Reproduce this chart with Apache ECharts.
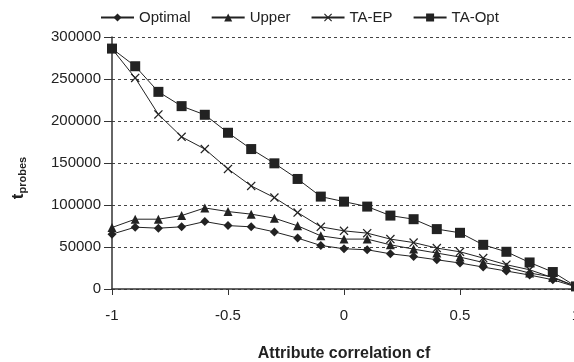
<!DOCTYPE html>
<html>
<head>
<meta charset="utf-8">
<script src="https://cdn.jsdelivr.net/npm/echarts@6/dist/echarts.min.js"></script>
<style>
  html, body { margin: 0; padding: 0; background: #fff; }
  #chart { width: 574px; height: 362px; }
</style>
</head>
<body>
<div id="chart"></div>
<script>
const xs = [-1, -0.9, -0.8, -0.7, -0.6, -0.5, -0.4, -0.3, -0.2, -0.1, 0, 0.1, 0.2, 0.3, 0.4, 0.5, 0.6, 0.7, 0.8, 0.9, 1];
const optimal = [65300, 73600, 72400, 74000, 80300, 75500, 74000, 68000, 60600, 51800, 47900, 46700, 41900, 38700, 34800, 30900, 26100, 21400, 16600, 11000, 2500];
const upper = [73200, 83100, 83100, 87400, 96500, 92200, 89100, 84300, 75200, 63300, 59400, 59400, 52600, 47500, 42800, 38000, 31600, 26100, 19000, 14300, 3000];
const taEp = [286000, 251300, 207800, 181200, 166600, 142900, 122700, 108800, 91000, 74000, 69200, 66500, 59400, 55300, 48700, 44300, 36800, 28900, 22900, 13400, 3000];
const taOpt = [286200, 265200, 234700, 217700, 207400, 186000, 166600, 149600, 131000, 110000, 104000, 98100, 87400, 83100, 71300, 66900, 52600, 44300, 31600, 20200, 3100];

const pairs = vals => xs.map((x, i) => [x, vals[i]]);

const crossPath = "path://M0,1 L1,0 L5,4 L9,0 L10,1 L6,5 L10,9 L9,10 L5,6 L1,10 L0,9 L4,5 Z";
const ink = "#222";
const font = "Liberation Sans, Arial, sans-serif";

const chart = echarts.init(document.getElementById("chart"));

const mkSeries = (name, vals, symbol, size) => ({
  name: name,
  type: "line",
  data: pairs(vals),
  symbol: symbol,
  symbolSize: size,
  showAllSymbol: true,
  lineStyle: { color: ink, width: 1 },
  itemStyle: { color: ink },
  animation: false
});

const option = {
  textStyle: { fontFamily: font },
  legend: {
    top: 5,
    left: 95,
    itemWidth: 33,
    itemHeight: 10,
    itemGap: 20,
    textStyle: { fontSize: 15, color: ink, fontFamily: font },
    data: ["Optimal", "Upper", "TA-EP", "TA-Opt"]
  },
  grid: {
    left: 112,
    right: -2,
    top: 37,
    bottom: 73,
    outerBoundsMode: "none",
    containLabel: false
  },
  xAxis: {
    type: "value",
    min: -1,
    max: 1,
    interval: 0.5,
    name: "Attribute correlation cf",
    nameLocation: "middle",
    nameGap: 57,
    nameTextStyle: { fontSize: 16, fontWeight: "bold", color: ink, fontFamily: font },
    axisLine: { show: true, onZero: false, lineStyle: { color: "#333", width: 1.5 } },
    axisTick: { show: true, inside: false, length: 6, lineStyle: { color: "#333" } },
    axisLabel: { fontSize: 15, color: ink, margin: 19, showMaxLabel: true },
    splitLine: { show: false }
  },
  yAxis: {
    type: "value",
    min: 0,
    max: 300000,
    interval: 50000,
    name: "{t|t}{s|probes}",
    nameLocation: "middle",
    nameRotate: 90,
    nameGap: 84,
    nameTextStyle: {
      rich: {
        t: { fontSize: 17, fontWeight: "bold", color: ink, fontFamily: font },
        s: { fontSize: 11, fontWeight: "bold", color: ink, fontFamily: font, verticalAlign: "bottom", padding: [8, 30, 0, 0] }
      }
    },
    axisLine: { show: true, onZero: false, lineStyle: { color: "#333", width: 1.5 } },
    axisTick: { show: true, length: 8, lineStyle: { color: "#333" } },
    axisLabel: { fontSize: 15, color: ink, margin: 11, formatter: v => String(v) },
    splitLine: { show: true, lineStyle: { color: "#444", type: [3, 3], width: 1 } }
  },
  series: [
    mkSeries("Optimal", optimal, "diamond", 9),
    mkSeries("Upper", upper, "triangle", 9),
    mkSeries("TA-EP", taEp, crossPath, 9),
    mkSeries("TA-Opt", taOpt, "rect", 10)
  ]
};

chart.setOption(option);
</script>
</body>
</html>
